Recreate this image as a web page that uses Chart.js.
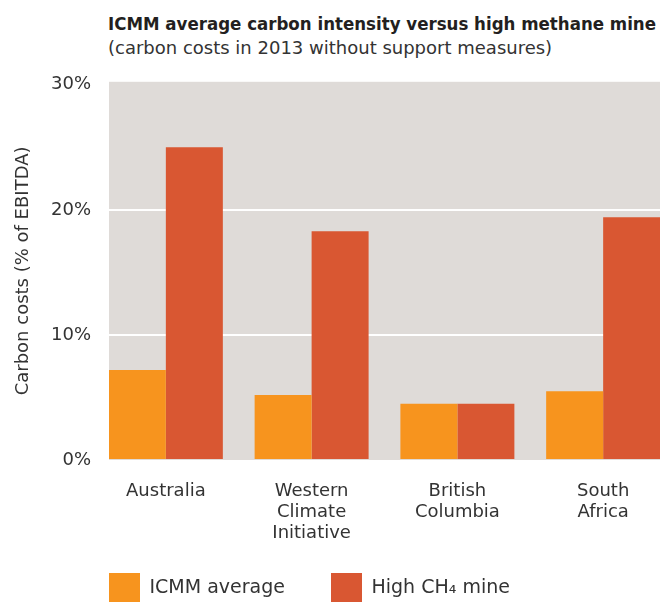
<!DOCTYPE html>
<html>
<head>
<meta charset="utf-8">
<script src="https://cdn.jsdelivr.net/npm/chart.js@4"></script>
<style>
  html, body { margin: 0; padding: 0; background: #fff; overflow: hidden; }
  body { width: 672px; height: 602px; position: relative; }
  .hdr { position: absolute; left: 108px; line-height: 24px; color: #231f20; white-space: nowrap; }
  #title { top: 13px; font: bold 18.5px 'DejaVu Sans Condensed', Roboto, sans-serif; }
  #subtitle { top: 37px; font: 18px 'DejaVu Sans', sans-serif; color: #333; }
  #wrap { position: absolute; left: 0; top: 53px; width: 672px; height: 584px; }
</style>
</head>
<body>
<div class="hdr" id="title">ICMM average carbon intensity versus high methane mine</div>
<div class="hdr" id="subtitle">(carbon costs in 2013 without support measures)</div>
<div id="wrap"><canvas id="chart"></canvas></div>
<script>
// ── Data ────────────────────────────────────────────────────────────
const CATEGORIES = [['Australia'], ['Western', 'Climate', 'Initiative'], ['British', 'Columbia'], ['South', 'Africa']];
const ICMM_AVERAGE = [7.2, 5.2, 4.5, 5.5];
const HIGH_CH4_MINE = [25.0, 18.3, 4.5, 19.4];
const Y_TICKS = [0, 10, 20, 30];
const SERIES_LABELS = ['ICMM average', 'High CH\u2084 mine'];

const ORANGE = '#f7941e';
const RED = '#d95732';
const PLOT_BG = '#dfdbd8';
const TEXT = '#333333';

Chart.defaults.font.family = "'DejaVu Sans', sans-serif";
Chart.defaults.font.size = 18;
Chart.defaults.color = TEXT;

function points(values) {
  return values.map(function(v, i) { return { x: i, y: v }; });
}

// grey plot background + legend moved under the plot's left edge
const plotBackground = {
  id: 'plotBackground',
  beforeDraw(chart) {
    const a = chart.chartArea, ctx = chart.ctx;
    ctx.save();
    ctx.fillStyle = PLOT_BG;
    ctx.fillRect(a.left, a.top, a.right - a.left, a.bottom - a.top);
    ctx.restore();
    const lg = chart.legend;
    if (lg) {
      const pad = lg.options.labels.padding;
      lg.left = a.left - pad;
      lg.top = a.bottom + 113 - pad;
    }
  }
};

new Chart(document.getElementById('chart'), {
  type: 'bar',
  data: {
    datasets: [
      { label: SERIES_LABELS[0], data: points(ICMM_AVERAGE), backgroundColor: ORANGE, borderWidth: 0 },
      { label: SERIES_LABELS[1], data: points(HIGH_CH4_MINE), backgroundColor: RED, borderWidth: 0 }
    ]
  },
  options: {
    responsive: true,
    maintainAspectRatio: false,
    animation: false,
    categoryPercentage: 0.782,
    barPercentage: 1.0,
    layout: { padding: { top: 0, right: 12, left: 0, bottom: 0 } },
    plugins: {
      tooltip: { enabled: false },
      legend: {
        position: 'bottom',
        align: 'start',
        labels: { boxWidth: 31, boxHeight: 31, padding: 46, color: TEXT, font: { size: 19 } }
      }
    },
    scales: {
      x: {
        type: 'linear',
        min: -0.39,
        max: 3.39,
        offset: false,
        grid: { display: false, drawTicks: false },
        border: { display: false },
        afterBuildTicks: function(s) { s.ticks = CATEGORIES.map(function(c, i) { return { value: i }; }); },
        afterFit: function(s) { s.height = 90; },
        ticks: {
          padding: 21,
          maxRotation: 0,
          autoSkip: false,
          font: { size: 18, lineHeight: 21 / 18 },
          callback: function(v) { return CATEGORIES[v]; }
        }
      },
      y: {
        min: 0,
        max: 30.24,
        grid: {
          drawTicks: false,
          lineWidth: 2,
          color: function(c) { return (c.tick && c.tick.value > 0 && c.tick.value < 30) ? '#ffffff' : 'rgba(0,0,0,0)'; }
        },
        border: { display: false },
        afterBuildTicks: function(s) { s.ticks = Y_TICKS.map(function(v) { return { value: v }; }); },
        afterFit: function(s) { s.width = 109; },
        ticks: {
          padding: 18,
          font: { size: 18 },
          callback: function(v) { return v + '%'; }
        },
        title: {
          display: true,
          text: 'Carbon costs (% of EBITDA)',
          font: { size: 18 },
          padding: { top: 13, bottom: 0 }
        }
      }
    }
  },
  plugins: [plotBackground]
});
</script>
</body>
</html>
